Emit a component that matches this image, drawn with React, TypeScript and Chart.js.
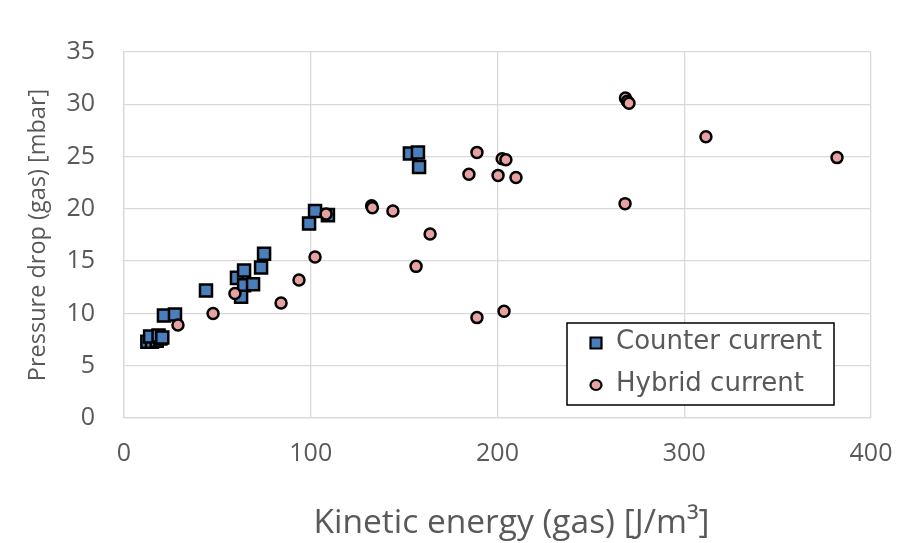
import { useEffect, useRef } from "react";
import { Chart, registerables } from "chart.js";

Chart.register(...registerables);

// Counter-current runs: kinetic energy of the gas [J/m³] vs. pressure drop [mbar]
const counterEnergy = [12.5, 15, 17.5, 19.5, 14, 18.5, 20.5, 21.4, 27.3, 43.9, 60.5, 64.3, 64.3, 69.1, 62.7, 73.4, 75.0, 99.1, 102.3, 109.2, 153.1, 157.4, 158.0];
const counterDrop = [7.3, 7.3, 7.4, 7.6, 7.8, 7.9, 7.7, 9.8, 9.9, 12.2, 13.4, 14.1, 12.7, 12.8, 11.6, 14.4, 15.7, 18.6, 19.8, 19.4, 25.3, 25.4, 24.0];

// Hybrid-current runs
const hybridEnergy = [28.9, 47.7, 59.4, 84.1, 93.7, 102.3, 108.2, 132.6, 133.0, 144.0, 163.9, 156.4, 189.0, 184.7, 202.5, 204.5, 200.3, 209.9, 189.0, 203.5, 268.5, 269.5, 270.4, 311.6, 381.8, 268.3];
const hybridDrop = [8.9, 10.0, 11.9, 11.0, 13.2, 15.4, 19.5, 20.3, 20.1, 19.8, 17.6, 14.5, 25.4, 23.3, 24.8, 24.7, 23.2, 23.0, 9.6, 10.2, 30.6, 30.3, 30.1, 26.9, 24.9, 20.5];

const seriesNames = ["Counter current", "Hybrid current"];
const xTitle = "Kinetic energy (gas) [J/m³]";
const yTitle = "Pressure drop (gas) [mbar]";
const xRange = [0, 400];
const xStep = 100;
const yRange = [0, 35];
const yStep = 5;

const TEXT_GREY = "#595959";
const GRID_GREY = "#d9d9d9";

const toPoints = (xs: number[], ys: number[]) => xs.map((x, i) => ({ x, y: ys[i] }));

// x-axis title, set a little right of the plot centre and below the tick labels
const xAxisTitle = {
  id: "xAxisTitle",
  afterDraw(chart: any) {
    const { ctx, chartArea } = chart;
    ctx.save();
    ctx.fillStyle = TEXT_GREY;
    ctx.font = "33.5px 'Open Sans'";
    ctx.textAlign = "center";
    ctx.textBaseline = "middle";
    ctx.fillText(xTitle, (chartArea.left + chartArea.right) / 2 + 14, chartArea.bottom + 105);
    ctx.restore();
  },
};

// Boxed legend drawn inside the plot area, bottom-right
const insetLegend = {
  id: "insetLegend",
  afterDraw(chart: any) {
    const { ctx, chartArea } = chart;
    const w = 267;
    const h = 82;
    const x0 = chartArea.right - 37 - w;
    const y0 = chartArea.bottom - 13 - h;
    ctx.save();
    ctx.fillStyle = "#ffffff";
    ctx.fillRect(x0, y0, w, h);
    ctx.strokeStyle = "#000000";
    ctx.lineWidth = 1.5;
    ctx.strokeRect(x0, y0, w, h);
    chart.data.datasets.forEach((ds: any, i: number) => {
      const cy = y0 + 20 + i * 42;
      const cx = x0 + 29;
      ctx.fillStyle = ds.backgroundColor;
      ctx.strokeStyle = ds.borderColor;
      ctx.lineWidth = 2.2;
      ctx.beginPath();
      if (ds.pointStyle === "rect") {
        ctx.rect(cx - 5.5, cy - 5.5, 11, 11);
      } else {
        ctx.ellipse(cx, cy, 5.5, 5, 0, 0, Math.PI * 2);
      }
      ctx.fill();
      ctx.stroke();
      ctx.fillStyle = TEXT_GREY;
      ctx.font = "26px 'DejaVu Sans'";
      ctx.textBaseline = "middle";
      ctx.textAlign = "left";
      ctx.fillText(ds.label, x0 + 49, cy - 1);
    });
    ctx.restore();
  },
};

export default function App() {
  const canvasRef = useRef<HTMLCanvasElement | null>(null);

  useEffect(() => {
    if (!canvasRef.current) return;
    const chart = new Chart(canvasRef.current, {
      type: "scatter",
      data: {
        datasets: [
          {
            label: seriesNames[0],
            data: toPoints(counterEnergy, counterDrop),
            pointStyle: "rect",
            pointRadius: 8.5,
            pointHoverRadius: 8.5,
            backgroundColor: "#4a7ebb",
            borderColor: "#000000",
            borderWidth: 2.5,
            order: 2,
          },
          {
            label: seriesNames[1],
            data: toPoints(hybridEnergy, hybridDrop),
            pointStyle: "circle",
            pointRadius: 5.5,
            pointHoverRadius: 5.5,
            backgroundColor: "#e6a1a1",
            borderColor: "#000000",
            borderWidth: 2.5,
            order: 1,
          },
        ],
      },
      options: {
        responsive: false,
        animation: false,
        layout: { padding: { left: 0, top: 35, right: 0, bottom: 0 } },
        plugins: {
          legend: { display: false },
          tooltip: { enabled: false },
        },
        scales: {
          x: {
            type: "linear",
            min: xRange[0],
            max: xRange[1],
            ticks: {
              stepSize: xStep,
              padding: 21,
              color: TEXT_GREY,
              font: { family: "'Open Sans'", size: 25 },
            },
            grid: { color: GRID_GREY, lineWidth: 1.3, drawTicks: false },
            border: { color: GRID_GREY, width: 1.3 },
            title: { display: false },
            afterFit(scale: any) {
              scale.height = 125;
              scale.paddingRight = 27;
            },
          },
          y: {
            type: "linear",
            min: yRange[0],
            max: yRange[1],
            ticks: {
              stepSize: yStep,
              padding: 29,
              color: TEXT_GREY,
              font: { family: "'Open Sans'", size: 25 },
            },
            grid: { color: GRID_GREY, lineWidth: 1.3, drawTicks: false },
            border: { color: GRID_GREY, width: 1.3 },
            title: {
              display: true,
              text: yTitle,
              color: TEXT_GREY,
              font: { family: "'Open Sans'", size: 23.5 },
              padding: { top: 16, bottom: 0 },
            },
            afterFit(scale: any) {
              scale.width = 116;
            },
          },
        },
      },
      plugins: [xAxisTitle, insetLegend],
    });
    return () => chart.destroy();
  }, []);

  return (
    <div style={{ position: "fixed", left: 8, top: 8, width: 890, height: 535 }}>
      <canvas ref={canvasRef} width={890} height={535} style={{ display: "block" }} />
    </div>
  );
}
